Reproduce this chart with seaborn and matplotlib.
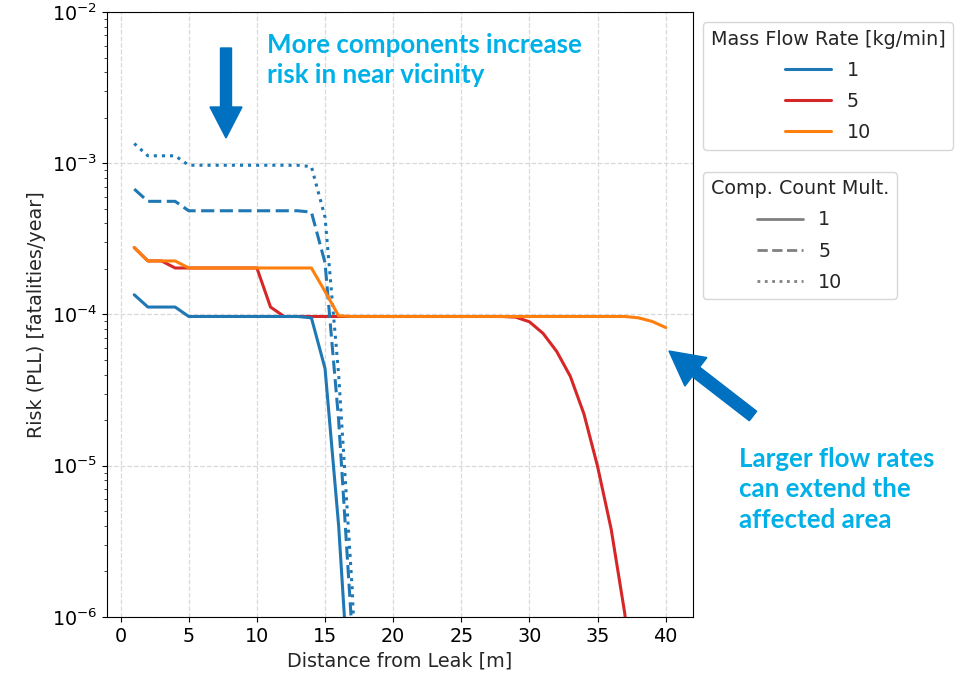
import numpy as np
import pandas as pd
import matplotlib.pyplot as plt
import seaborn as sns
from matplotlib.lines import Line2D
from matplotlib.patches import FancyArrow
from matplotlib.transforms import IdentityTransform

nan = np.nan

# distance from leak [m]
distance = list(range(1, 41))

# flow 1 kg/min, component count multiplier 1
risk_f1_m1 = [1.35e-4, 1.12e-4, 1.12e-4, 1.12e-4, 9.7e-5, 9.7e-5, 9.7e-5, 9.7e-5, 9.7e-5, 9.7e-5,
              9.7e-5, 9.7e-5, 9.7e-5, 9.5e-5, 4.4e-5, 4.0e-6, 1.5e-7, 1e-9, nan, nan,
              nan, nan, nan, nan, nan, nan, nan, nan, nan, nan,
              nan, nan, nan, nan, nan, nan, nan, nan, nan, nan]
# flow 1 kg/min, multiplier 5
risk_f1_m5 = [6.75e-4, 5.6e-4, 5.6e-4, 5.6e-4, 4.85e-4, 4.85e-4, 4.85e-4, 4.85e-4, 4.85e-4, 4.85e-4,
              4.85e-4, 4.85e-4, 4.85e-4, 4.75e-4, 2.2e-4, 2.0e-5, 7.5e-7, 5e-9, nan, nan,
              nan, nan, nan, nan, nan, nan, nan, nan, nan, nan,
              nan, nan, nan, nan, nan, nan, nan, nan, nan, nan]
# flow 1 kg/min, multiplier 10
risk_f1_m10 = [1.35e-3, 1.12e-3, 1.12e-3, 1.12e-3, 9.7e-4, 9.7e-4, 9.7e-4, 9.7e-4, 9.7e-4, 9.7e-4,
               9.7e-4, 9.7e-4, 9.7e-4, 9.5e-4, 4.4e-4, 4.0e-5, 1.5e-6, 1e-8, nan, nan,
               nan, nan, nan, nan, nan, nan, nan, nan, nan, nan,
               nan, nan, nan, nan, nan, nan, nan, nan, nan, nan]
# flow 5 kg/min, multiplier 1
risk_f5_m1 = [2.77e-4, 2.26e-4, 2.26e-4, 2.03e-4, 2.03e-4, 2.03e-4, 2.03e-4, 2.03e-4, 2.03e-4, 2.03e-4,
              1.12e-4, 9.7e-5, 9.7e-5, 9.7e-5, 9.7e-5, 9.7e-5, 9.7e-5, 9.7e-5, 9.7e-5, 9.7e-5,
              9.7e-5, 9.7e-5, 9.7e-5, 9.7e-5, 9.7e-5, 9.7e-5, 9.7e-5, 9.7e-5, 9.6e-5, 8.95e-5,
              7.5e-5, 5.7e-5, 3.9e-5, 2.2e-5, 9.9e-6, 3.8e-6, 1.05e-6, 1e-7, nan, nan]
# flow 10 kg/min, multiplier 1
risk_f10_m1 = [2.77e-4, 2.26e-4, 2.26e-4, 2.26e-4, 2.03e-4, 2.03e-4, 2.03e-4, 2.03e-4, 2.03e-4, 2.03e-4,
               2.03e-4, 2.03e-4, 2.03e-4, 2.03e-4, 1.42e-4, 9.8e-5, 9.7e-5, 9.7e-5, 9.7e-5, 9.7e-5,
               9.7e-5, 9.7e-5, 9.7e-5, 9.7e-5, 9.7e-5, 9.7e-5, 9.7e-5, 9.7e-5, 9.7e-5, 9.7e-5,
               9.7e-5, 9.7e-5, 9.7e-5, 9.7e-5, 9.7e-5, 9.7e-5, 9.7e-5, 9.5e-5, 9.0e-5, 8.2e-5]

flow_levels = [1, 5, 10]
mult_levels = [1, 5, 10]

series = [(5, 1, risk_f5_m1), (1, 1, risk_f1_m1), (1, 5, risk_f1_m5),
          (1, 10, risk_f1_m10), (10, 1, risk_f10_m1)]
frames = []
for flow, mult, vals in series:
    frames.append(pd.DataFrame({"Distance": distance, "Risk": vals,
                                "Flow": flow, "Mult": mult}))
df = pd.concat(frames, ignore_index=True).dropna()

colors = {1: "#1f77b4", 5: "#d62728", 10: "#ff7f0e"}
dashes = {1: "", 5: (4.3, 1.8), 10: (1, 1.65)}

sns.set_style("ticks")
plt.rcParams["font.family"] = ["DejaVu Sans"]
plt.rcParams["font.size"] = 13.8
plt.rcParams["axes.edgecolor"] = "black"

fig = plt.figure(figsize=(9.57, 6.78), dpi=100)
ax = fig.add_axes([0.1118, 0.09, 0.6123, 0.8923])

sns.lineplot(data=df, x="Distance", y="Risk", hue="Flow", style="Mult",
             hue_order=[5, 1, 10], palette=colors, dashes=dashes,
             estimator=None, errorbar=None, linewidth=2.2, legend=False, ax=ax)

ax.set_yscale("log")
ax.set_ylim(1e-6, 1e-2)
ax.set_xlim(-1, 42)
ax.set_xticks(range(0, 41, 5))
ax.grid(True, which="major", linestyle="--", color="#d9d9d9", linewidth=0.9)
ax.tick_params(labelsize=13.8, colors="black")
ax.set_xlabel("Distance from Leak [m]", fontsize=13.8)
ax.set_ylabel("Risk (PLL) [fatalities/year]", fontsize=13.8)

h1 = [Line2D([], [], color=colors[f], lw=2.2) for f in flow_levels]
leg1 = ax.legend(h1, [str(f) for f in flow_levels], title="Mass Flow Rate [kg/min]",
                 loc="upper left", bbox_to_anchor=(1.017, 0.983), borderaxespad=0,
                 handlelength=2.4, labelspacing=0.63, fontsize=13.8, title_fontsize=13.8)
ax.add_artist(leg1)
h2 = [Line2D([], [], color="gray", lw=2) for m in mult_levels]
h2[1].set_dashes((3.7, 1.6))
h2[2].set_dashes((1, 1.65))
ax.legend(h2, [str(m) for m in mult_levels], title="Comp. Count Mult.",
          loc="upper left", bbox_to_anchor=(1.017, 0.736), borderaxespad=0,
          handlelength=2.4, labelspacing=0.63, fontsize=13.8, title_fontsize=13.8)

# annotations (pixel positions)
note_color = "#00b0e6"
arrow_color = "#0070c0"
H = 678
fig.text(267 / 957, 1 - 33 / H, "More components increase\nrisk in near vicinity",
         color=note_color, fontsize=18.6, fontweight="bold", family=["Lato"],
         va="top", ha="left", linespacing=1.32)
fig.text(739 / 957, 1 - 447 / H, "Larger flow rates\ncan extend the\naffected area",
         color=note_color, fontsize=18.6, fontweight="bold", family=["Lato"],
         va="top", ha="left", linespacing=1.32)

fig.patches.append(FancyArrow(226, H - 48, 0, -90, width=11, head_width=32, head_length=31,
                              length_includes_head=True, color=arrow_color,
                              transform=IdentityTransform(), figure=fig))
fig.patches.append(FancyArrow(753, H - 416, -84, 65, width=12, head_width=36, head_length=34,
                              length_includes_head=True, color=arrow_color,
                              transform=IdentityTransform(), figure=fig))

fig.savefig("out.png", dpi=100)
